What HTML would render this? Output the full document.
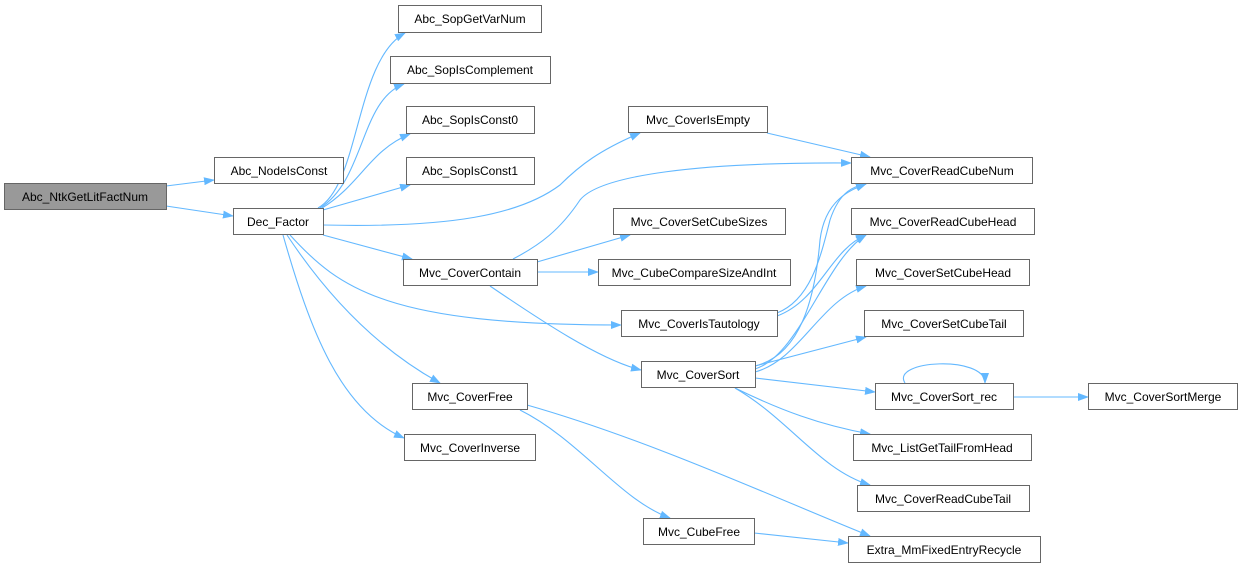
<!DOCTYPE html>
<html><head><meta charset="utf-8"><style>
body{margin:0;background:#fff;width:1242px;height:568px;overflow:hidden}
svg text{font-family:"Liberation Sans",Arial,sans-serif;font-size:12px;fill:#000}
</style></head><body>
<svg width="1242" height="568" viewBox="0 0 1242 568" xmlns="http://www.w3.org/2000/svg">
<defs><marker id="a" markerWidth="11" markerHeight="8" refX="10" refY="4" orient="auto" markerUnits="userSpaceOnUse"><path d="M0,0 L11,4 L0,8 z" fill="#63b8ff"/></marker></defs>
<g fill="none" stroke="#63b8ff" stroke-width="1.1" marker-end="url(#a)">
<path d="M166 186 L214 180"/>
<path d="M166 206 L233 216"/>
<path d="M318 208 C360 185,355 60,405 33"/>
<path d="M320 208 C365 180,360 100,404 84"/>
<path d="M322 208 C360 185,370 150,410 134"/>
<path d="M323 210 L410 185"/>
<path d="M323 225 C450 228,520 215,560 185 C580 165,600 150,640 133"/>
<path d="M513 259 C540 245,560 230,580 200 C600 175,700 162,851 163"/>
<path d="M323 235 L412 259"/>
<path d="M290 235 C340 290,390 325,621 325"/>
<path d="M287 235 C330 300,380 350,440 383"/>
<path d="M283 235 C310 330,340 410,404 438"/>
<path d="M767 133 L870 157"/>
<path d="M537 262 L630 235"/>
<path d="M537 272 L598 272"/>
<path d="M490 286 C540 320,600 360,641 370"/>
<path d="M777 313 C810 300,820 260,830 220 C840 190,855 186,866 184"/>
<path d="M777 316 C820 300,830 250,866 235"/>
<path d="M755 366 C800 355,815 300,820 240 C825 200,850 190,866 184"/>
<path d="M755 369 C800 355,825 260,866 235"/>
<path d="M755 372 C800 360,820 300,866 286"/>
<path d="M755 366 L866 337"/>
<path d="M755 378 L875 392"/>
<path d="M735 388 C780 410,820 425,870 434"/>
<path d="M735 388 C790 420,820 470,870 485"/>
<path d="M905 383 C890 360,985 355,985 383"/>
<path d="M1013 397 L1088 397"/>
<path d="M520 410 C580 440,620 500,670 518"/>
<path d="M527 405 C650 440,780 500,870 536"/>
<path d="M754 533 L848 543"/>
</g>
<g stroke="#666" stroke-width="1" fill="#fff">
<rect x="4.5" y="183.5" width="162" height="26" fill="#999"/>
<rect x="214.5" y="157.5" width="129" height="26"/>
<rect x="233.5" y="208.5" width="90" height="26"/>
<rect x="398.5" y="5.5" width="143" height="27"/>
<rect x="390.5" y="56.5" width="160" height="27"/>
<rect x="406.5" y="106.5" width="128" height="27"/>
<rect x="406.5" y="157.5" width="128" height="27"/>
<rect x="403.5" y="259.5" width="134" height="26"/>
<rect x="412.5" y="383.5" width="115" height="26"/>
<rect x="404.5" y="434.5" width="131" height="26"/>
<rect x="628.5" y="106.5" width="139" height="26"/>
<rect x="613.5" y="208.5" width="172" height="26"/>
<rect x="598.5" y="259.5" width="192" height="26"/>
<rect x="621.5" y="310.5" width="156" height="26"/>
<rect x="641.5" y="361.5" width="114" height="26"/>
<rect x="643.5" y="518.5" width="111" height="26"/>
<rect x="851.5" y="157.5" width="181" height="26"/>
<rect x="851.5" y="208.5" width="183" height="26"/>
<rect x="856.5" y="259.5" width="173" height="26"/>
<rect x="864.5" y="310.5" width="159" height="26"/>
<rect x="875.5" y="383.5" width="138" height="26"/>
<rect x="1088.5" y="383.5" width="149" height="26"/>
<rect x="853.5" y="434.5" width="178" height="26"/>
<rect x="857.5" y="485.5" width="172" height="26"/>
<rect x="848.5" y="536.5" width="192" height="26"/>
</g>
<g text-anchor="middle">
<text x="85" y="201">Abc_NtkGetLitFactNum</text>
<text x="279" y="175">Abc_NodeIsConst</text>
<text x="278" y="226">Dec_Factor</text>
<text x="470" y="23">Abc_SopGetVarNum</text>
<text x="470" y="74">Abc_SopIsComplement</text>
<text x="470" y="124">Abc_SopIsConst0</text>
<text x="470" y="175">Abc_SopIsConst1</text>
<text x="470" y="277">Mvc_CoverContain</text>
<text x="470" y="401">Mvc_CoverFree</text>
<text x="470" y="452">Mvc_CoverInverse</text>
<text x="698" y="124">Mvc_CoverIsEmpty</text>
<text x="699" y="226">Mvc_CoverSetCubeSizes</text>
<text x="694" y="277">Mvc_CubeCompareSizeAndInt</text>
<text x="699" y="328">Mvc_CoverIsTautology</text>
<text x="698" y="379">Mvc_CoverSort</text>
<text x="699" y="536">Mvc_CubeFree</text>
<text x="942" y="175">Mvc_CoverReadCubeNum</text>
<text x="943" y="226">Mvc_CoverReadCubeHead</text>
<text x="943" y="277">Mvc_CoverSetCubeHead</text>
<text x="944" y="328">Mvc_CoverSetCubeTail</text>
<text x="944" y="401">Mvc_CoverSort_rec</text>
<text x="1163" y="401">Mvc_CoverSortMerge</text>
<text x="942" y="452">Mvc_ListGetTailFromHead</text>
<text x="943" y="503">Mvc_CoverReadCubeTail</text>
<text x="944" y="554">Extra_MmFixedEntryRecycle</text>
</g>
</svg>
</body></html>
